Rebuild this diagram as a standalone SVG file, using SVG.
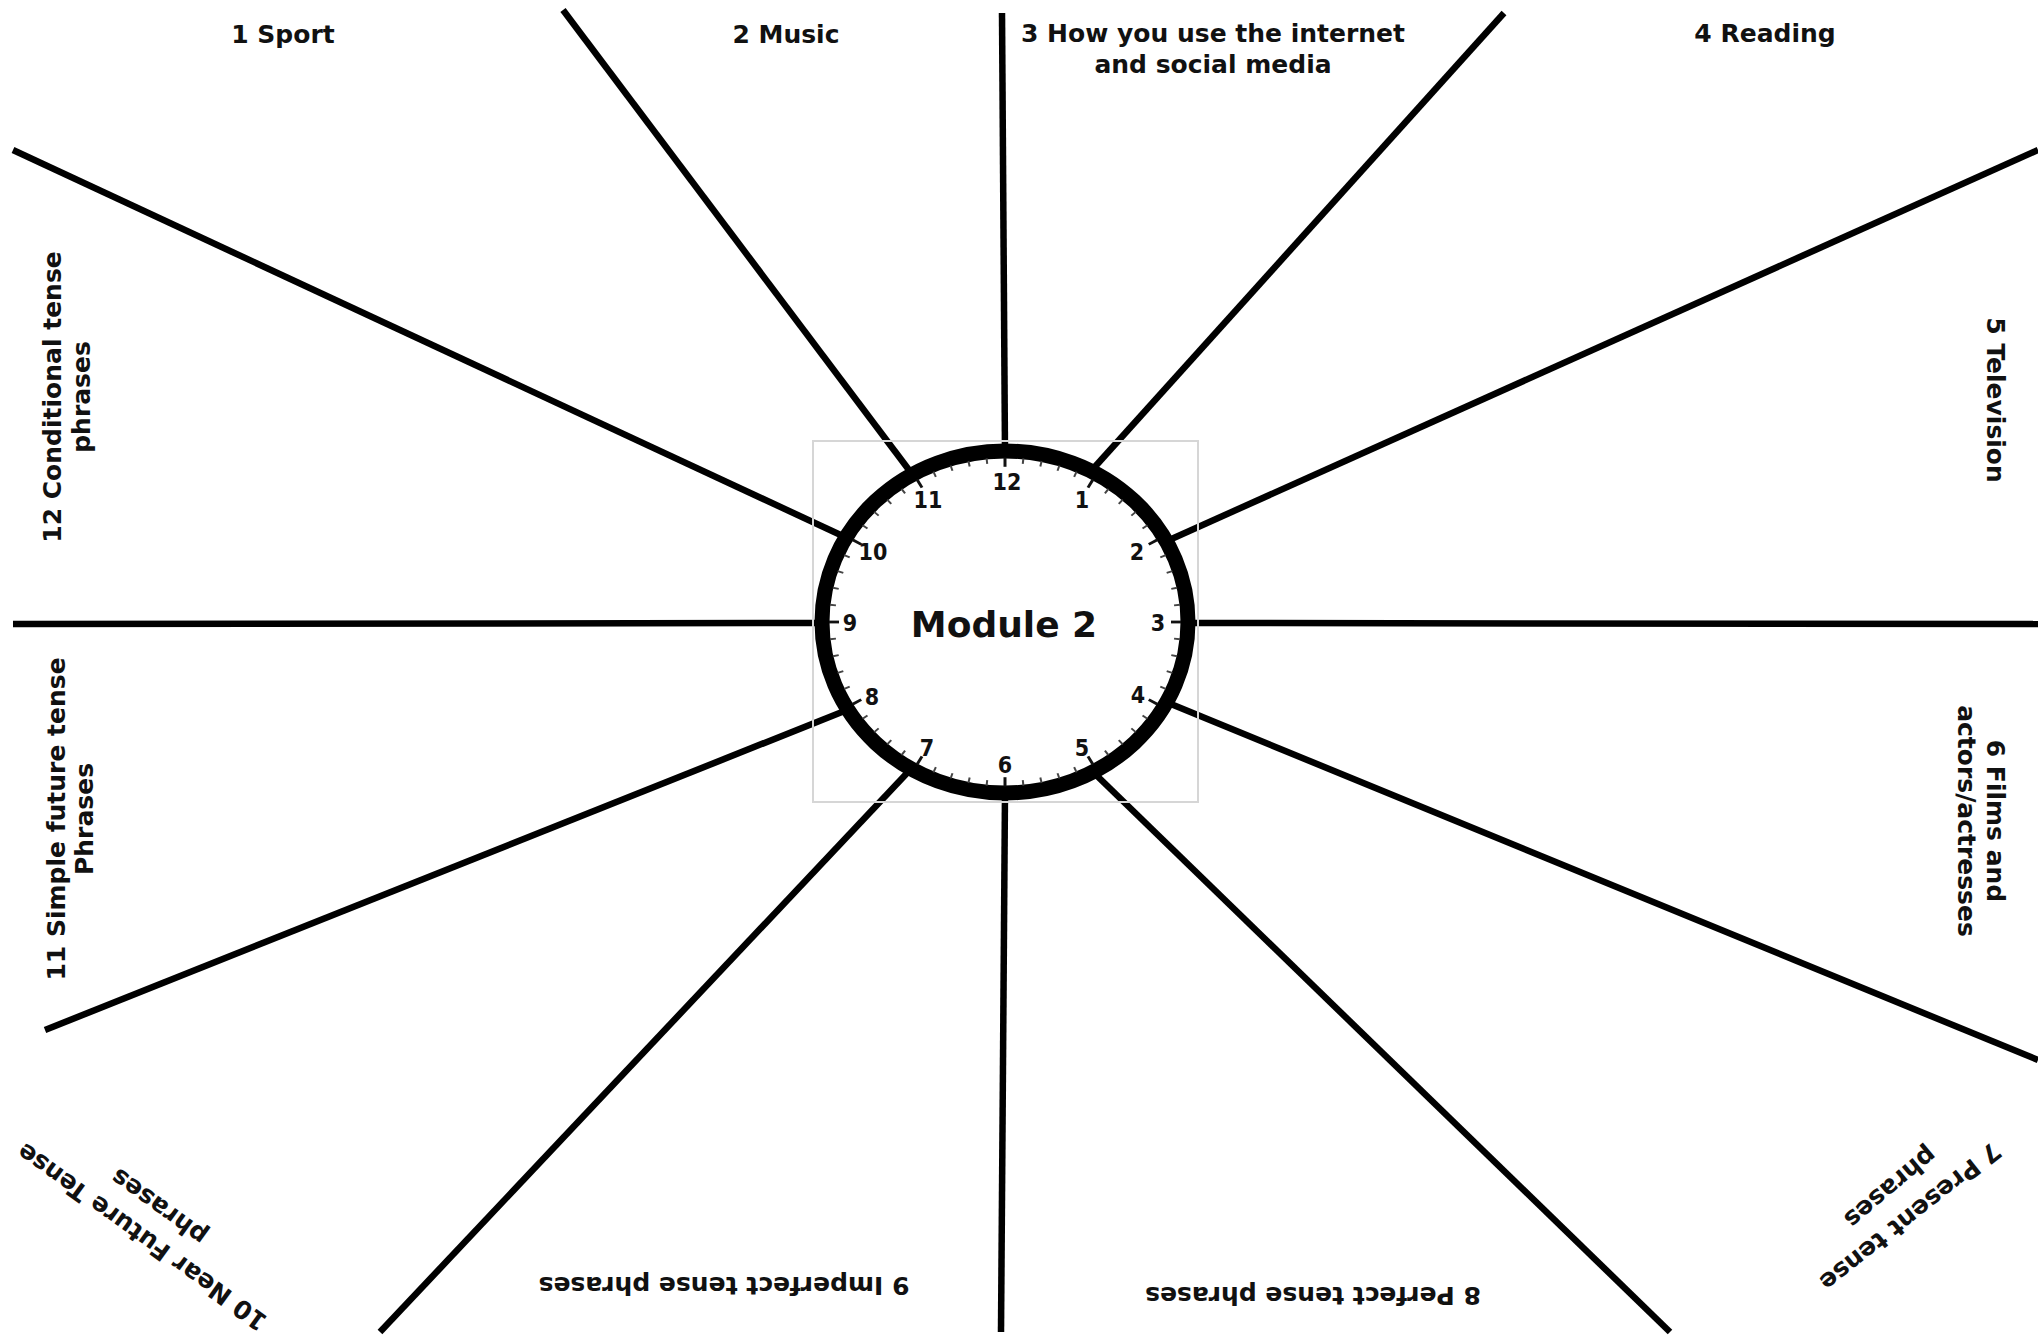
<svg xmlns="http://www.w3.org/2000/svg" xmlns:xlink="http://www.w3.org/1999/xlink" width="2038" height="1344" viewBox="0 0 2038 1344">
<style>
.lbl{font-family:"DejaVu Sans","Verdana",sans-serif;font-weight:bold;font-size:25px;fill:#111;text-anchor:middle}
.num{font-family:"DejaVu Sans Condensed","DejaVu Sans",sans-serif;font-weight:bold;font-size:23px;fill:#111;text-anchor:middle}
.title{font-family:"DejaVu Sans",sans-serif;font-weight:bold;font-size:36px;fill:#111;text-anchor:middle}
.spoke{stroke:#000;stroke-width:6.5;stroke-linecap:butt;fill:none}
.mt{stroke:#444;stroke-width:2}
.ht{stroke:#111;stroke-width:3}
</style>
<defs>
<line id="mt" class="mt" x1="0" y1="-176" x2="0" y2="-170"/>
<line id="ht" class="ht" x1="0" y1="-176" x2="0" y2="-166"/>
</defs>
<rect width="2038" height="1344" fill="#fff"/>
<g id="connectors">
<line class="spoke" x1="1005" y1="452" x2="1002" y2="13"/>
<line class="spoke" x1="1092" y1="470" x2="1504" y2="13"/>
<line class="spoke" x1="1167" y1="541" x2="2038" y2="150"/>
<line class="spoke" x1="1190" y1="623" x2="2038" y2="624"/>
<line class="spoke" x1="1166" y1="702" x2="2038" y2="1060"/>
<line class="spoke" x1="1092" y1="771" x2="1670" y2="1332"/>
<line class="spoke" x1="1005" y1="792" x2="1001" y2="1332"/>
<line class="spoke" x1="909" y1="771" x2="380" y2="1332"/>
<line class="spoke" x1="847" y1="710" x2="45" y2="1030"/>
<line class="spoke" x1="824" y1="623" x2="13" y2="624"/>
<line class="spoke" x1="845" y1="537" x2="13" y2="150"/>
<line class="spoke" x1="912" y1="474" x2="563" y2="10"/>
</g>
<g id="clock">
<rect x="813" y="441" width="385" height="361" fill="none" stroke="#d6d6d6" stroke-width="2"/>
<ellipse cx="1005" cy="622" rx="183" ry="171" fill="#fff" stroke="#000" stroke-width="15"/>
<g transform="translate(1005,622) scale(1,0.935)">
<use xlink:href="#ht" transform="rotate(0)"/><use xlink:href="#mt" transform="rotate(6)"/><use xlink:href="#mt" transform="rotate(12)"/><use xlink:href="#mt" transform="rotate(18)"/><use xlink:href="#mt" transform="rotate(24)"/>
<use xlink:href="#ht" transform="rotate(30)"/><use xlink:href="#mt" transform="rotate(36)"/><use xlink:href="#mt" transform="rotate(42)"/><use xlink:href="#mt" transform="rotate(48)"/><use xlink:href="#mt" transform="rotate(54)"/>
<use xlink:href="#ht" transform="rotate(60)"/><use xlink:href="#mt" transform="rotate(66)"/><use xlink:href="#mt" transform="rotate(72)"/><use xlink:href="#mt" transform="rotate(78)"/><use xlink:href="#mt" transform="rotate(84)"/>
<use xlink:href="#ht" transform="rotate(90)"/><use xlink:href="#mt" transform="rotate(96)"/><use xlink:href="#mt" transform="rotate(102)"/><use xlink:href="#mt" transform="rotate(108)"/><use xlink:href="#mt" transform="rotate(114)"/>
<use xlink:href="#ht" transform="rotate(120)"/><use xlink:href="#mt" transform="rotate(126)"/><use xlink:href="#mt" transform="rotate(132)"/><use xlink:href="#mt" transform="rotate(138)"/><use xlink:href="#mt" transform="rotate(144)"/>
<use xlink:href="#ht" transform="rotate(150)"/><use xlink:href="#mt" transform="rotate(156)"/><use xlink:href="#mt" transform="rotate(162)"/><use xlink:href="#mt" transform="rotate(168)"/><use xlink:href="#mt" transform="rotate(174)"/>
<use xlink:href="#ht" transform="rotate(180)"/><use xlink:href="#mt" transform="rotate(186)"/><use xlink:href="#mt" transform="rotate(192)"/><use xlink:href="#mt" transform="rotate(198)"/><use xlink:href="#mt" transform="rotate(204)"/>
<use xlink:href="#ht" transform="rotate(210)"/><use xlink:href="#mt" transform="rotate(216)"/><use xlink:href="#mt" transform="rotate(222)"/><use xlink:href="#mt" transform="rotate(228)"/><use xlink:href="#mt" transform="rotate(234)"/>
<use xlink:href="#ht" transform="rotate(240)"/><use xlink:href="#mt" transform="rotate(246)"/><use xlink:href="#mt" transform="rotate(252)"/><use xlink:href="#mt" transform="rotate(258)"/><use xlink:href="#mt" transform="rotate(264)"/>
<use xlink:href="#ht" transform="rotate(270)"/><use xlink:href="#mt" transform="rotate(276)"/><use xlink:href="#mt" transform="rotate(282)"/><use xlink:href="#mt" transform="rotate(288)"/><use xlink:href="#mt" transform="rotate(294)"/>
<use xlink:href="#ht" transform="rotate(300)"/><use xlink:href="#mt" transform="rotate(306)"/><use xlink:href="#mt" transform="rotate(312)"/><use xlink:href="#mt" transform="rotate(318)"/><use xlink:href="#mt" transform="rotate(324)"/>
<use xlink:href="#ht" transform="rotate(330)"/><use xlink:href="#mt" transform="rotate(336)"/><use xlink:href="#mt" transform="rotate(342)"/><use xlink:href="#mt" transform="rotate(348)"/><use xlink:href="#mt" transform="rotate(354)"/>
</g>
<text class="num" x="1007" y="490">12</text>
<text class="num" x="1082" y="508">1</text>
<text class="num" x="1137" y="560">2</text>
<text class="num" x="1158" y="631">3</text>
<text class="num" x="1138" y="703">4</text>
<text class="num" x="1082" y="756">5</text>
<text class="num" x="1005" y="773">6</text>
<text class="num" x="927" y="756">7</text>
<text class="num" x="872" y="705">8</text>
<text class="num" x="850" y="631">9</text>
<text class="num" x="873" y="560">10</text>
<text class="num" x="928" y="508">11</text>
<text class="title" x="1004" y="637">Module 2</text>
</g>
<g id="label-1"><text class="lbl" x="283" y="43">1 Sport</text></g>
<g id="label-2"><text class="lbl" x="786" y="43">2 Music</text></g>
<g id="label-3"><text class="lbl" x="1213" y="42">3 How you use the internet</text><text class="lbl" x="1213" y="73">and social media</text></g>
<g id="label-4"><text class="lbl" x="1765" y="42">4 Reading</text></g>
<g id="label-5"><text class="lbl" transform="translate(1987,400) rotate(90)">5 Television</text></g>
<g id="label-6"><text class="lbl" transform="translate(1987,821) rotate(90)">6 Films and</text><text class="lbl" transform="translate(1958,821) rotate(90)">actors/actresses</text></g>
<g id="label-7"><text class="lbl" transform="translate(1905,1210) rotate(141.7)">7 Present tense</text><text class="lbl" transform="translate(1885,1181) rotate(140)">phrases</text></g>
<g id="label-8"><text class="lbl" transform="translate(1313,1287) rotate(180)">8 Perfect tense phrases</text></g>
<g id="label-9"><text class="lbl" transform="translate(724,1277) rotate(180)">9 Imperfect tense phrases</text></g>
<g id="label-10"><text class="lbl" transform="translate(147,1230) rotate(215.8)">10 Near Future Tense</text><text class="lbl" transform="translate(164,1200) rotate(215.8)">phrases</text></g>
<g id="label-11"><text class="lbl" transform="translate(65,819) rotate(-90)">11 Simple future tense</text><text class="lbl" transform="translate(93,819) rotate(-90)">Phrases</text></g>
<g id="label-12"><text class="lbl" transform="translate(61,397) rotate(-90)">12 Conditional tense</text><text class="lbl" transform="translate(90,397) rotate(-90)">phrases</text></g>
</svg>
